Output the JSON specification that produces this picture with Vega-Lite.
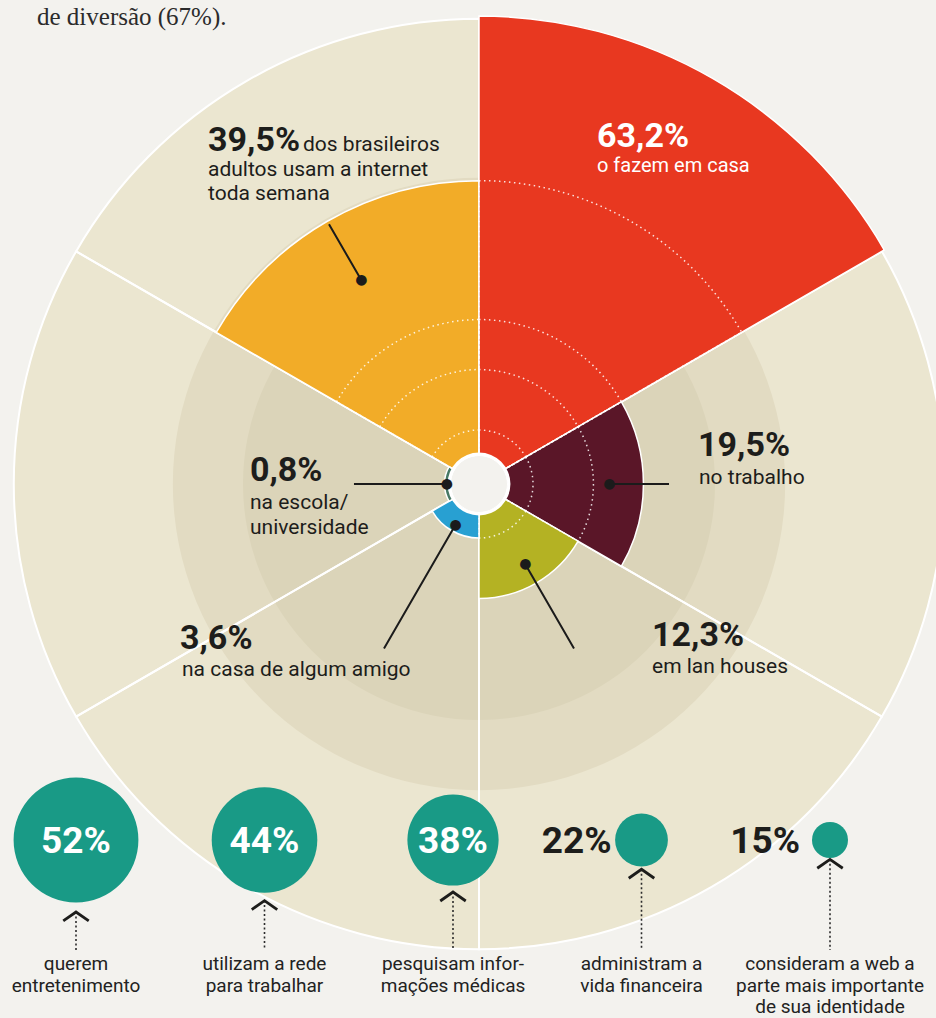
{
  "$schema": "https://vega.github.io/schema/vega-lite/v6.json",
  "width": 914,
  "height": 968,
  "autosize": "none",
  "padding": {"left": 22, "top": 0, "right": 0, "bottom": 50},
  "background": "#f3f2ee",
  "config": {"view": {"stroke": null}},
  "title": {"text": "de diversão (67%).", "anchor": "start", "frame": "group", "font": "Liberation Serif", "fontSize": 25, "fontWeight": "normal", "color": "#2b2b2b", "baseline": "alphabetic", "offset": 0, "dx": 15, "dy": 50},
  "datasets": {
    "setores": [
      {"cat": "semana", "n": 1, "value": 39.5, "pct": "39,5%", "lead": "dos brasileiros", "desc": ["adultos usam a internet", "toda semana"], "rings": [19.5, 12.3, 3.6]},
      {"cat": "casa", "n": 2, "value": 63.2, "pct": "63,2%", "desc": ["o fazem em casa"], "rings": [39.5, 19.5, 12.3, 3.6]},
      {"cat": "trabalho", "n": 3, "value": 19.5, "pct": "19,5%", "desc": ["no trabalho"], "rings": [12.3, 3.6]},
      {"cat": "lan", "n": 4, "value": 12.3, "pct": "12,3%", "desc": ["em lan houses"], "rings": [3.6]},
      {"cat": "amigo", "n": 5, "value": 3.6, "pct": "3,6%", "desc": ["na casa de algum amigo"], "rings": []},
      {"cat": "escola", "n": 6, "value": 0.8, "pct": "0,8%", "desc": ["na escola/", "universidade"], "rings": []}
    ],
    "aneis": [
      {"nivel": "externo", "r": 62.8},
      {"nivel": "medio", "r": 39.9},
      {"nivel": "interno", "r": 29.8}
    ],
    "usos": [
      {"item": "entretenimento", "pct": 52, "rotulo": "52%", "texto": ["querem", "entretenimento"]},
      {"item": "trabalho", "pct": 44, "rotulo": "44%", "texto": ["utilizam a rede", "para trabalhar"]},
      {"item": "saude", "pct": 38, "rotulo": "38%", "texto": ["pesquisam infor-", "mações médicas"]},
      {"item": "financas", "pct": 22, "rotulo": "22%", "texto": ["administram a", "vida financeira"]},
      {"item": "identidade", "pct": 15, "rotulo": "15%", "texto": ["consideram a web a", "parte mais importante", "de sua identidade"]}
    ]
  },
  "resolve": {"scale": {"theta": "independent", "radius": "independent", "color": "independent"}},
  "layer": [
    {
      "data": {"name": "aneis"},
      "mark": {"type": "arc", "strokeWidth": 0},
      "encoding": {
        "radius": {"field": "r", "type": "quantitative", "stack": null, "scale": {"type": "linear", "domain": [0, 63.2], "range": [29, 468], "zero": false}},
        "color": {"field": "nivel", "type": "nominal", "scale": {"domain": ["externo", "medio", "interno"], "range": ["#ebe6d0", "#e2dbc2", "#dbd4b9"]}, "legend": null},
        "order": {"field": "r", "type": "quantitative", "sort": "descending"}
      }
    },
    {
      "data": {"name": "setores"},
      "transform": [
        {"window": [{"op": "count", "as": "w"}], "frame": [0, 0]},
        {"stack": "w", "groupby": [], "sort": [{"field": "n"}], "as": ["t0", "t1"]}
      ],
      "mark": {"type": "arc", "fillOpacity": 0, "stroke": "#ffffff", "strokeWidth": 2},
      "encoding": {
        "theta": {"field": "t0", "type": "quantitative", "stack": null, "scale": {"domain": [0, 6], "range": [-1.0471976, 5.2359878]}},
        "theta2": {"field": "t1"},
        "radius": {"datum": 62.8, "type": "quantitative", "scale": {"type": "linear", "domain": [0, 63.2], "range": [29, 468], "zero": false}}
      }
    },
    {
      "data": {"name": "setores"},
      "transform": [
        {"window": [{"op": "count", "as": "w"}], "frame": [0, 0]},
        {"stack": "w", "groupby": [], "sort": [{"field": "n"}], "as": ["t0", "t1"]}
      ],
      "mark": {"type": "arc", "stroke": "#ffffff", "strokeWidth": 1.5},
      "encoding": {
        "theta": {"field": "t0", "type": "quantitative", "stack": null, "scale": {"domain": [0, 6], "range": [-1.0471976, 5.2359878]}},
        "theta2": {"field": "t1"},
        "radius": {"field": "value", "type": "quantitative", "stack": null, "scale": {"type": "linear", "domain": [0, 63.2], "range": [29, 468], "zero": false}},
        "color": {"field": "cat", "type": "nominal", "scale": {"domain": ["semana", "casa", "trabalho", "lan", "amigo", "escola"], "range": ["#f2ac28", "#e83820", "#5a1628", "#b4b223", "#28a0d2", "#467864"]}, "legend": null}
      }
    },
    {
      "data": {"name": "setores"},
      "transform": [
        {"window": [{"op": "count", "as": "w"}], "frame": [0, 0]},
        {"stack": "w", "groupby": [], "sort": [{"field": "n"}], "as": ["t0", "t1"]},
        {"flatten": ["rings"], "as": ["anel"]}
      ],
      "mark": {"type": "arc", "fillOpacity": 0, "stroke": "#ffffff", "strokeWidth": 1.5, "strokeDash": [1.5, 3.5], "strokeOpacity": 0.85},
      "encoding": {
        "theta": {"field": "t0", "type": "quantitative", "stack": null, "scale": {"domain": [0, 6], "range": [-1.0471976, 5.2359878]}},
        "theta2": {"field": "t1"},
        "radius": {"field": "anel", "type": "quantitative", "stack": null, "scale": {"type": "linear", "domain": [0, 63.2], "range": [29, 468], "zero": false}}
      }
    },
    {
      "data": {"values": [{"parte": "centro"}]},
      "mark": {"type": "arc", "color": "#ffffff", "strokeWidth": 0},
      "encoding": {
        "radius": {"datum": 0.35, "type": "quantitative", "scale": {"type": "linear", "domain": [0, 63.2], "range": [29, 468], "zero": false}}
      }
    },
    {
      "data": {"name": "setores"},
      "transform": [
        {"window": [{"op": "count", "as": "w"}], "frame": [0, 0]},
        {"stack": "w", "groupby": [], "sort": [{"field": "n"}], "as": ["t0", "t1"]},
        {"filter": "datum.cat != 'casa'"}
      ],
      "mark": {"type": "text", "text": "●", "font": "DejaVu Sans", "fontSize": 14, "align": "center", "baseline": "middle", "color": "#1b1b1b"},
      "encoding": {
        "theta": {"field": "t0", "type": "quantitative", "scale": {"domain": [0, 6], "range": [-0.5235988, 5.7595865]}},
        "radius": {"field": "value", "type": "quantitative", "scale": {"type": "linear", "domain": [0, 63.2], "range": [28, 360], "zero": false}}
      }
    },
    {
      "data": {"name": "setores"},
      "transform": [
        {"window": [{"op": "count", "as": "w"}], "frame": [0, 0]},
        {"stack": "w", "groupby": [], "sort": [{"field": "n"}], "as": ["t0", "t1"]},
        {"filter": "datum.cat == 'trabalho' || datum.cat == 'lan' || datum.cat == 'amigo'"}
      ],
      "mark": {"type": "arc", "fillOpacity": 0, "stroke": "#1b1b1b", "strokeWidth": 2},
      "encoding": {
        "theta": {"field": "t0", "type": "quantitative", "stack": null, "scale": {"domain": [0, 6], "range": [-0.5235988, 5.7595865]}},
        "theta2": {"field": "t0"},
        "radius": {"field": "value", "type": "quantitative", "stack": null, "scale": {"type": "linear", "domain": [0, 63.2], "range": [28, 360], "zero": false}},
        "radius2": {"datum": 30.84}
      }
    },
    {
      "data": {"name": "setores"},
      "transform": [
        {"window": [{"op": "count", "as": "w"}], "frame": [0, 0]},
        {"stack": "w", "groupby": [], "sort": [{"field": "n"}], "as": ["t0", "t1"]},
        {"filter": "datum.cat == 'escola'"}
      ],
      "mark": {"type": "arc", "fillOpacity": 0, "stroke": "#1b1b1b", "strokeWidth": 2},
      "encoding": {
        "theta": {"field": "t0", "type": "quantitative", "stack": null, "scale": {"domain": [0, 6], "range": [-0.5235988, 5.7595865]}},
        "theta2": {"field": "t0"},
        "radius": {"field": "value", "type": "quantitative", "stack": null, "scale": {"type": "linear", "domain": [0, 63.2], "range": [28, 360], "zero": false}},
        "radius2": {"datum": 18.47}
      }
    },
    {
      "data": {"name": "setores"},
      "transform": [
        {"window": [{"op": "count", "as": "w"}], "frame": [0, 0]},
        {"stack": "w", "groupby": [], "sort": [{"field": "n"}], "as": ["t0", "t1"]},
        {"filter": "datum.cat == 'semana'"}
      ],
      "mark": {"type": "arc", "fillOpacity": 0, "stroke": "#1b1b1b", "strokeWidth": 2},
      "encoding": {
        "theta": {"field": "t0", "type": "quantitative", "stack": null, "scale": {"domain": [0, 6], "range": [-0.5235988, 5.7595865]}},
        "theta2": {"field": "t0"},
        "radius": {"field": "value", "type": "quantitative", "stack": null, "scale": {"type": "linear", "domain": [0, 63.2], "range": [28, 360], "zero": false}},
        "radius2": {"datum": 51.78}
      }
    },
    {
      "data": {"name": "setores"},
      "transform": [
        {"window": [{"op": "count", "as": "w"}], "frame": [0, 0]},
        {"stack": "w", "groupby": [], "sort": [{"field": "n"}], "as": ["t0", "t1"]},
        {"filter": "datum.cat == 'semana'"}
      ],
      "mark": {"type": "text", "align": "left", "baseline": "alphabetic", "dx": -121, "dy": -73, "font": "Roboto", "fontWeight": "bold", "fontSize": 34, "color": "#1d1d1b"},
      "encoding": {
        "theta": {"field": "t0", "type": "quantitative", "scale": {"domain": [0, 6], "range": [-0.5235988, 5.7595865]}},
        "radius": {"datum": 51.78, "type": "quantitative", "scale": {"type": "linear", "domain": [0, 63.2], "range": [28, 360], "zero": false}},
        "text": {"field": "pct", "type": "nominal"}
      }
    },
    {
      "data": {"name": "setores"},
      "transform": [
        {"window": [{"op": "count", "as": "w"}], "frame": [0, 0]},
        {"stack": "w", "groupby": [], "sort": [{"field": "n"}], "as": ["t0", "t1"]},
        {"filter": "datum.cat == 'semana'"}
      ],
      "mark": {"type": "text", "align": "left", "baseline": "alphabetic", "dx": -26, "dy": -73, "font": "Roboto", "fontSize": 21, "color": "#1d1d1b"},
      "encoding": {
        "theta": {"field": "t0", "type": "quantitative", "scale": {"domain": [0, 6], "range": [-0.5235988, 5.7595865]}},
        "radius": {"datum": 51.78, "type": "quantitative", "scale": {"type": "linear", "domain": [0, 63.2], "range": [28, 360], "zero": false}},
        "text": {"field": "lead", "type": "nominal"}
      }
    },
    {
      "data": {"name": "setores"},
      "transform": [
        {"window": [{"op": "count", "as": "w"}], "frame": [0, 0]},
        {"stack": "w", "groupby": [], "sort": [{"field": "n"}], "as": ["t0", "t1"]},
        {"filter": "datum.cat == 'semana'"}
      ],
      "mark": {"type": "text", "align": "left", "baseline": "alphabetic", "dx": -121, "dy": -48, "lineHeight": 24, "font": "Roboto", "fontSize": 21, "color": "#1d1d1b"},
      "encoding": {
        "theta": {"field": "t0", "type": "quantitative", "scale": {"domain": [0, 6], "range": [-0.5235988, 5.7595865]}},
        "radius": {"datum": 51.78, "type": "quantitative", "scale": {"type": "linear", "domain": [0, 63.2], "range": [28, 360], "zero": false}},
        "text": {"field": "desc", "type": "nominal"}
      }
    },
    {
      "data": {"name": "setores"},
      "transform": [
        {"window": [{"op": "count", "as": "w"}], "frame": [0, 0]},
        {"stack": "w", "groupby": [], "sort": [{"field": "n"}], "as": ["t0", "t1"]},
        {"filter": "datum.cat == 'casa'"}
      ],
      "mark": {"type": "text", "align": "left", "baseline": "alphabetic", "dx": -72, "dy": -8, "font": "Roboto", "fontWeight": "bold", "fontSize": 34, "color": "#ffffff"},
      "encoding": {
        "theta": {"field": "t0", "type": "quantitative", "scale": {"domain": [0, 6], "range": [-0.5235988, 5.7595865]}},
        "radius": {"datum": 67.01, "type": "quantitative", "scale": {"type": "linear", "domain": [0, 63.2], "range": [28, 360], "zero": false}},
        "text": {"field": "pct", "type": "nominal"}
      }
    },
    {
      "data": {"name": "setores"},
      "transform": [
        {"window": [{"op": "count", "as": "w"}], "frame": [0, 0]},
        {"stack": "w", "groupby": [], "sort": [{"field": "n"}], "as": ["t0", "t1"]},
        {"filter": "datum.cat == 'casa'"}
      ],
      "mark": {"type": "text", "align": "left", "baseline": "alphabetic", "dx": -72, "dy": 17, "font": "Roboto", "fontSize": 20, "color": "#ffffff"},
      "encoding": {
        "theta": {"field": "t0", "type": "quantitative", "scale": {"domain": [0, 6], "range": [-0.5235988, 5.7595865]}},
        "radius": {"datum": 67.01, "type": "quantitative", "scale": {"type": "linear", "domain": [0, 63.2], "range": [28, 360], "zero": false}},
        "text": {"field": "desc", "type": "nominal"}
      }
    },
    {
      "data": {"name": "setores"},
      "transform": [
        {"window": [{"op": "count", "as": "w"}], "frame": [0, 0]},
        {"stack": "w", "groupby": [], "sort": [{"field": "n"}], "as": ["t0", "t1"]},
        {"filter": "datum.cat == 'trabalho'"}
      ],
      "mark": {"type": "text", "align": "left", "baseline": "alphabetic", "dx": 29, "dy": -28, "font": "Roboto", "fontWeight": "bold", "fontSize": 34, "color": "#1d1d1b"},
      "encoding": {
        "theta": {"field": "t0", "type": "quantitative", "scale": {"domain": [0, 6], "range": [-0.5235988, 5.7595865]}},
        "radius": {"datum": 30.84, "type": "quantitative", "scale": {"type": "linear", "domain": [0, 63.2], "range": [28, 360], "zero": false}},
        "text": {"field": "pct", "type": "nominal"}
      }
    },
    {
      "data": {"name": "setores"},
      "transform": [
        {"window": [{"op": "count", "as": "w"}], "frame": [0, 0]},
        {"stack": "w", "groupby": [], "sort": [{"field": "n"}], "as": ["t0", "t1"]},
        {"filter": "datum.cat == 'trabalho'"}
      ],
      "mark": {"type": "text", "align": "left", "baseline": "alphabetic", "dx": 30, "dy": 0, "font": "Roboto", "fontSize": 21, "color": "#1d1d1b"},
      "encoding": {
        "theta": {"field": "t0", "type": "quantitative", "scale": {"domain": [0, 6], "range": [-0.5235988, 5.7595865]}},
        "radius": {"datum": 30.84, "type": "quantitative", "scale": {"type": "linear", "domain": [0, 63.2], "range": [28, 360], "zero": false}},
        "text": {"field": "desc", "type": "nominal"}
      }
    },
    {
      "data": {"name": "setores"},
      "transform": [
        {"window": [{"op": "count", "as": "w"}], "frame": [0, 0]},
        {"stack": "w", "groupby": [], "sort": [{"field": "n"}], "as": ["t0", "t1"]},
        {"filter": "datum.cat == 'lan'"}
      ],
      "mark": {"type": "text", "align": "left", "baseline": "alphabetic", "dx": 78, "dy": -3, "font": "Roboto", "fontWeight": "bold", "fontSize": 34, "color": "#1d1d1b"},
      "encoding": {
        "theta": {"field": "t0", "type": "quantitative", "scale": {"domain": [0, 6], "range": [-0.5235988, 5.7595865]}},
        "radius": {"datum": 30.84, "type": "quantitative", "scale": {"type": "linear", "domain": [0, 63.2], "range": [28, 360], "zero": false}},
        "text": {"field": "pct", "type": "nominal"}
      }
    },
    {
      "data": {"name": "setores"},
      "transform": [
        {"window": [{"op": "count", "as": "w"}], "frame": [0, 0]},
        {"stack": "w", "groupby": [], "sort": [{"field": "n"}], "as": ["t0", "t1"]},
        {"filter": "datum.cat == 'lan'"}
      ],
      "mark": {"type": "text", "align": "left", "baseline": "alphabetic", "dx": 78, "dy": 24, "font": "Roboto", "fontSize": 21, "color": "#1d1d1b"},
      "encoding": {
        "theta": {"field": "t0", "type": "quantitative", "scale": {"domain": [0, 6], "range": [-0.5235988, 5.7595865]}},
        "radius": {"datum": 30.84, "type": "quantitative", "scale": {"type": "linear", "domain": [0, 63.2], "range": [28, 360], "zero": false}},
        "text": {"field": "desc", "type": "nominal"}
      }
    },
    {
      "data": {"name": "setores"},
      "transform": [
        {"window": [{"op": "count", "as": "w"}], "frame": [0, 0]},
        {"stack": "w", "groupby": [], "sort": [{"field": "n"}], "as": ["t0", "t1"]},
        {"filter": "datum.cat == 'amigo'"}
      ],
      "mark": {"type": "text", "align": "left", "baseline": "alphabetic", "dx": -204, "dy": 0, "font": "Roboto", "fontWeight": "bold", "fontSize": 34, "color": "#1d1d1b"},
      "encoding": {
        "theta": {"field": "t0", "type": "quantitative", "scale": {"domain": [0, 6], "range": [-0.5235988, 5.7595865]}},
        "radius": {"datum": 30.84, "type": "quantitative", "scale": {"type": "linear", "domain": [0, 63.2], "range": [28, 360], "zero": false}},
        "text": {"field": "pct", "type": "nominal"}
      }
    },
    {
      "data": {"name": "setores"},
      "transform": [
        {"window": [{"op": "count", "as": "w"}], "frame": [0, 0]},
        {"stack": "w", "groupby": [], "sort": [{"field": "n"}], "as": ["t0", "t1"]},
        {"filter": "datum.cat == 'amigo'"}
      ],
      "mark": {"type": "text", "align": "left", "baseline": "alphabetic", "dx": -202, "dy": 27, "font": "Roboto", "fontSize": 21, "color": "#1d1d1b"},
      "encoding": {
        "theta": {"field": "t0", "type": "quantitative", "scale": {"domain": [0, 6], "range": [-0.5235988, 5.7595865]}},
        "radius": {"datum": 30.84, "type": "quantitative", "scale": {"type": "linear", "domain": [0, 63.2], "range": [28, 360], "zero": false}},
        "text": {"field": "desc", "type": "nominal"}
      }
    },
    {
      "data": {"name": "setores"},
      "transform": [
        {"window": [{"op": "count", "as": "w"}], "frame": [0, 0]},
        {"stack": "w", "groupby": [], "sort": [{"field": "n"}], "as": ["t0", "t1"]},
        {"filter": "datum.cat == 'escola'"}
      ],
      "mark": {"type": "text", "align": "left", "baseline": "alphabetic", "dx": -104, "dy": -3, "font": "Roboto", "fontWeight": "bold", "fontSize": 34, "color": "#1d1d1b"},
      "encoding": {
        "theta": {"field": "t0", "type": "quantitative", "scale": {"domain": [0, 6], "range": [-0.5235988, 5.7595865]}},
        "radius": {"datum": 18.47, "type": "quantitative", "scale": {"type": "linear", "domain": [0, 63.2], "range": [28, 360], "zero": false}},
        "text": {"field": "pct", "type": "nominal"}
      }
    },
    {
      "data": {"name": "setores"},
      "transform": [
        {"window": [{"op": "count", "as": "w"}], "frame": [0, 0]},
        {"stack": "w", "groupby": [], "sort": [{"field": "n"}], "as": ["t0", "t1"]},
        {"filter": "datum.cat == 'escola'"}
      ],
      "mark": {"type": "text", "align": "left", "baseline": "alphabetic", "dx": -104, "dy": 25, "lineHeight": 25, "font": "Roboto", "fontSize": 21, "color": "#1d1d1b"},
      "encoding": {
        "theta": {"field": "t0", "type": "quantitative", "scale": {"domain": [0, 6], "range": [-0.5235988, 5.7595865]}},
        "radius": {"datum": 18.47, "type": "quantitative", "scale": {"type": "linear", "domain": [0, 63.2], "range": [28, 360], "zero": false}},
        "text": {"field": "desc", "type": "nominal"}
      }
    },
    {
      "data": {"name": "usos"},
      "mark": {"type": "point", "filled": true, "color": "#199a86", "opacity": 1, "strokeWidth": 0},
      "encoding": {
        "x": {"field": "item", "type": "nominal", "scale": {"type": "point", "domain": ["entretenimento", "trabalho", "saude", "financas", "identidade"], "range": [54, 808], "padding": 0}, "axis": null},
        "y": {"value": 840},
        "size": {"field": "pct", "type": "quantitative", "scale": {"type": "pow", "exponent": 2, "domain": [0, 52], "range": [0, 15575]}, "legend": null}
      }
    },
    {
      "data": {"name": "usos"},
      "transform": [{"filter": "datum.pct >= 30"}],
      "mark": {"type": "text", "align": "center", "baseline": "middle", "font": "Roboto", "fontWeight": "bold", "fontSize": 37, "color": "#ffffff"},
      "encoding": {
        "x": {"field": "item", "type": "nominal", "scale": {"type": "point", "domain": ["entretenimento", "trabalho", "saude", "financas", "identidade"], "range": [54, 808], "padding": 0}, "axis": null},
        "y": {"value": 842},
        "text": {"field": "rotulo", "type": "nominal"}
      }
    },
    {
      "data": {"name": "usos"},
      "transform": [{"filter": "datum.pct < 30"}],
      "mark": {"type": "text", "align": "right", "baseline": "middle", "dx": -30, "font": "Roboto", "fontWeight": "bold", "fontSize": 37, "color": "#1d1d1b"},
      "encoding": {
        "x": {"field": "item", "type": "nominal", "scale": {"type": "point", "domain": ["entretenimento", "trabalho", "saude", "financas", "identidade"], "range": [54, 808], "padding": 0}, "axis": null},
        "y": {"value": 842},
        "text": {"field": "rotulo", "type": "nominal"}
      }
    },
    {
      "data": {"name": "usos"},
      "mark": {"type": "rule", "strokeDash": [2, 2.5], "strokeWidth": 1.6, "color": "#2b2b2b"},
      "encoding": {
        "x": {"field": "item", "type": "nominal", "scale": {"type": "point", "domain": ["entretenimento", "trabalho", "saude", "financas", "identidade"], "range": [54, 808], "padding": 0}, "axis": null},
        "y": {"field": "pct", "type": "quantitative", "scale": {"type": "linear", "domain": [0, 52], "range": [838, 912], "zero": false}, "axis": null},
        "y2": {"value": 950}
      }
    },
    {
      "data": {"name": "usos"},
      "mark": {"type": "point", "shape": "M-1,0.7L0,0L1,0.7", "size": 650, "filled": false, "color": "#1d1d1b", "strokeWidth": 2.8, "opacity": 1},
      "encoding": {
        "x": {"field": "item", "type": "nominal", "scale": {"type": "point", "domain": ["entretenimento", "trabalho", "saude", "financas", "identidade"], "range": [54, 808], "padding": 0}, "axis": null},
        "y": {"field": "pct", "type": "quantitative", "scale": {"type": "linear", "domain": [0, 52], "range": [838, 912], "zero": false}, "axis": null}
      }
    },
    {
      "data": {"name": "usos"},
      "mark": {"type": "text", "align": "center", "baseline": "alphabetic", "font": "Roboto", "fontSize": 19, "lineHeight": 21.5, "color": "#222222"},
      "encoding": {
        "x": {"field": "item", "type": "nominal", "scale": {"type": "point", "domain": ["entretenimento", "trabalho", "saude", "financas", "identidade"], "range": [54, 808], "padding": 0}, "axis": null},
        "y": {"value": 970},
        "text": {"field": "texto", "type": "nominal"}
      }
    }
  ]
}
